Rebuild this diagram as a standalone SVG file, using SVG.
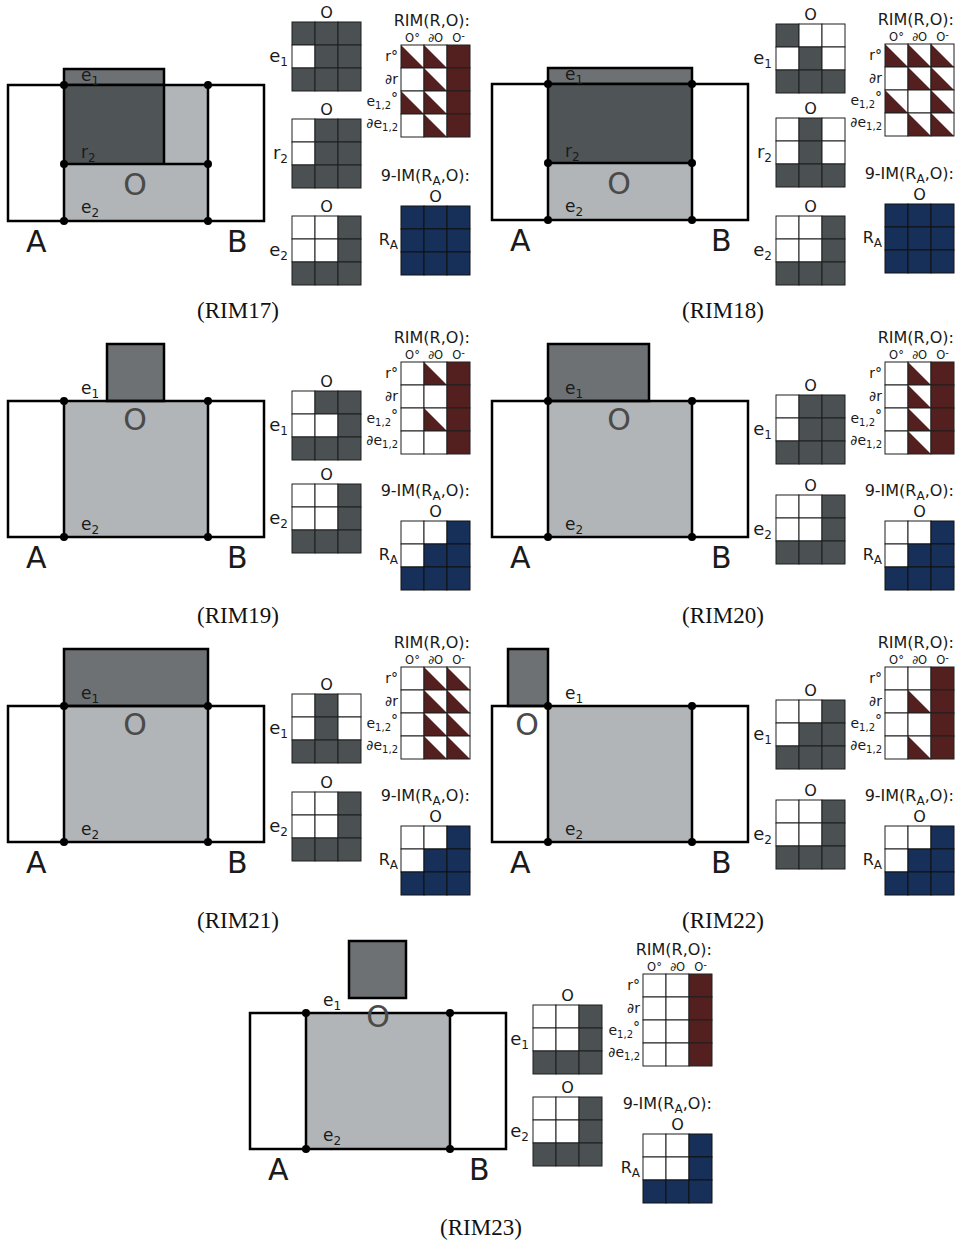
<svg xmlns="http://www.w3.org/2000/svg" xmlns:xlink="http://www.w3.org/1999/xlink" width="961" height="1245" viewBox="0 0 961 1245">
<style>
.t{font-family:"DejaVu Sans","Liberation Sans",sans-serif;fill:#1a1a1a}
.hd{font-size:16px;text-anchor:end}
.ch{font-size:11.5px;text-anchor:middle}
.rl{font-size:14px;text-anchor:end}
.ml{font-size:18px;text-anchor:end}
.mo{font-size:16px;text-anchor:middle}
.dl{font-size:17px}
.big{font-size:30px}
.bo{font-size:30px;fill:#4a4a4a;text-anchor:middle}
.s{font-size:10px}
.s2{font-size:12px}
.cap{font-family:"Liberation Serif","Times New Roman",serif;font-size:23px;text-anchor:middle;fill:#111}
.ln{stroke:#000;stroke-width:2.5;fill:none}
.wh{fill:#fff}
.lg{fill:#b1b5b7}
.mg{fill:#6d7173;stroke:#000;stroke-width:2.5}
.dg{fill:#4f5456}
.dot{fill:#000}
</style>
<defs>
<rect id="W" width="23" height="23" fill="#fff" stroke="#1e1e1e" stroke-width="1"/>
<rect id="D" width="23" height="23" fill="#4b5052" stroke="#1e1e1e" stroke-width="1"/>
<rect id="F" width="23" height="23" fill="#54201f" stroke="#1e1e1e" stroke-width="1"/>
<rect id="U" width="23" height="23" fill="#16305a" stroke="#111" stroke-width="1"/>
<g id="T"><rect width="23" height="23" fill="#fff"/><polygon points="0,0 0,23 23,23" fill="#54201f"/><rect width="23" height="23" fill="none" stroke="#1e1e1e" stroke-width="1"/></g>
</defs>
<rect width="961" height="1245" fill="#fff"/>
<g id="connectors"/>

<!-- RIM17 -->
<g id="rim17">
 <g id="rim17-fig" transform="translate(8,85)">
  <rect class="wh" x="0" y="0" width="256" height="136"/>
  <rect class="lg" x="56" y="0" width="144" height="136"/>
  <rect class="mg" x="56" y="-16" width="100" height="16"/>
  <rect class="dg" x="56" y="0" width="100" height="79"/>
  <rect class="ln" x="0" y="0" width="256" height="136"/>
  <path class="ln" d="M56 0V136M200 0V136M156 0V79M56 79H200"/>
  <g class="dot"><circle cx="56" cy="0" r="4"/><circle cx="200" cy="0" r="4"/><circle cx="56" cy="79" r="4"/><circle cx="200" cy="79" r="4"/><circle cx="56" cy="136" r="4"/><circle cx="200" cy="136" r="4"/></g>
  <text class="t dl" x="73" y="-4">e<tspan class="s2" dy="4">1</tspan></text>
  <text class="t dl" x="73" y="73">r<tspan class="s2" dy="4">2</tspan></text>
  <text class="t bo" x="127" y="110">O</text>
  <text class="t dl" x="73" y="128">e<tspan class="s2" dy="4">2</tspan></text>
  <text class="t big" x="18" y="167">A</text>
  <text class="t big" x="219" y="167">B</text>
 </g>
 <g id="rim17-m1" transform="translate(292,22)">
  <use href="#D" x="0" y="0"/><use href="#D" x="23" y="0"/><use href="#D" x="46" y="0"/>
  <use href="#W" x="0" y="23"/><use href="#D" x="23" y="23"/><use href="#D" x="46" y="23"/>
  <use href="#D" x="0" y="46"/><use href="#D" x="23" y="46"/><use href="#D" x="46" y="46"/>
  <text class="t mo" x="34.5" y="-4">O</text>
  <text class="t ml" x="-4" y="40">e<tspan class="s2" dy="4">1</tspan></text>
 </g>
 <g id="rim17-m2" transform="translate(292,119)">
  <use href="#W" x="0" y="0"/><use href="#D" x="23" y="0"/><use href="#D" x="46" y="0"/>
  <use href="#W" x="0" y="23"/><use href="#D" x="23" y="23"/><use href="#D" x="46" y="23"/>
  <use href="#D" x="0" y="46"/><use href="#D" x="23" y="46"/><use href="#D" x="46" y="46"/>
  <text class="t mo" x="34.5" y="-4">O</text>
  <text class="t ml" x="-4" y="40">r<tspan class="s2" dy="4">2</tspan></text>
 </g>
 <g id="rim17-m3" transform="translate(292,216)">
  <use href="#W" x="0" y="0"/><use href="#W" x="23" y="0"/><use href="#D" x="46" y="0"/>
  <use href="#W" x="0" y="23"/><use href="#W" x="23" y="23"/><use href="#D" x="46" y="23"/>
  <use href="#D" x="0" y="46"/><use href="#D" x="23" y="46"/><use href="#D" x="46" y="46"/>
  <text class="t mo" x="34.5" y="-4">O</text>
  <text class="t ml" x="-4" y="40">e<tspan class="s2" dy="4">2</tspan></text>
 </g>
 <g id="rim17-rim" transform="translate(401,45)">
  <use href="#T" x="0" y="0"/><use href="#T" x="23" y="0"/><use href="#F" x="46" y="0"/>
  <use href="#W" x="0" y="23"/><use href="#T" x="23" y="23"/><use href="#F" x="46" y="23"/>
  <use href="#T" x="0" y="46"/><use href="#T" x="23" y="46"/><use href="#F" x="46" y="46"/>
  <use href="#W" x="0" y="69"/><use href="#T" x="23" y="69"/><use href="#F" x="46" y="69"/>
  <text class="t hd" x="69" y="-19">RIM(R,O):</text>
  <text class="t ch" x="11.5" y="-3">O°</text><text class="t ch" x="34.5" y="-3">∂O</text><text class="t ch" x="57.5" y="-3">O<tspan class="s" dy="-3">-</tspan></text>
  <text class="t rl" x="-3" y="16">r°</text>
  <text class="t rl" x="-3" y="39">∂r</text>
  <text class="t rl" x="-3" y="61">e<tspan class="s" dy="3">1,2</tspan><tspan dy="-6">°</tspan></text>
  <text class="t rl" x="-3" y="83">∂e<tspan class="s" dy="3">1,2</tspan></text>
 </g>
 <g id="rim17-im" transform="translate(401,206)">
  <use href="#U" x="0" y="0"/><use href="#U" x="23" y="0"/><use href="#U" x="46" y="0"/>
  <use href="#U" x="0" y="23"/><use href="#U" x="23" y="23"/><use href="#U" x="46" y="23"/>
  <use href="#U" x="0" y="46"/><use href="#U" x="23" y="46"/><use href="#U" x="46" y="46"/>
  <text class="t hd" x="69" y="-25">9-IM(R<tspan class="s2" dy="4">A</tspan><tspan dy="-4">,O):</tspan></text>
  <text class="t mo" x="34.5" y="-4">O</text>
  <text class="t hd" x="-3" y="39">R<tspan class="s2" dy="4">A</tspan></text>
 </g>
 <text class="cap" x="238" y="318">(RIM17)</text>
</g>

<!-- RIM18 -->
<g id="rim18">
 <g id="rim18-fig" transform="translate(492,84)">
  <rect class="wh" x="0" y="0" width="256" height="136"/>
  <rect class="lg" x="56" y="79" width="144" height="57"/>
  <rect class="mg" x="56" y="-16" width="144" height="16"/>
  <rect class="dg" x="56" y="0" width="144" height="79"/>
  <rect class="ln" x="0" y="0" width="256" height="136"/>
  <path class="ln" d="M56 0V136M200 0V136M56 79H200"/>
  <g class="dot"><circle cx="56" cy="0" r="4"/><circle cx="200" cy="0" r="4"/><circle cx="56" cy="79" r="4"/><circle cx="200" cy="79" r="4"/><circle cx="56" cy="136" r="4"/><circle cx="200" cy="136" r="4"/></g>
  <text class="t dl" x="73" y="-4">e<tspan class="s2" dy="4">1</tspan></text>
  <text class="t dl" x="73" y="73">r<tspan class="s2" dy="4">2</tspan></text>
  <text class="t bo" x="127" y="110">O</text>
  <text class="t dl" x="73" y="128">e<tspan class="s2" dy="4">2</tspan></text>
  <text class="t big" x="18" y="167">A</text>
  <text class="t big" x="219" y="167">B</text>
 </g>
 <g id="rim18-m1" transform="translate(776,24)">
  <use href="#D" x="0" y="0"/><use href="#W" x="23" y="0"/><use href="#W" x="46" y="0"/>
  <use href="#W" x="0" y="23"/><use href="#D" x="23" y="23"/><use href="#W" x="46" y="23"/>
  <use href="#D" x="0" y="46"/><use href="#D" x="23" y="46"/><use href="#D" x="46" y="46"/>
  <text class="t mo" x="34.5" y="-4">O</text>
  <text class="t ml" x="-4" y="40">e<tspan class="s2" dy="4">1</tspan></text>
 </g>
 <g id="rim18-m2" transform="translate(776,118)">
  <use href="#W" x="0" y="0"/><use href="#D" x="23" y="0"/><use href="#W" x="46" y="0"/>
  <use href="#W" x="0" y="23"/><use href="#D" x="23" y="23"/><use href="#W" x="46" y="23"/>
  <use href="#D" x="0" y="46"/><use href="#D" x="23" y="46"/><use href="#D" x="46" y="46"/>
  <text class="t mo" x="34.5" y="-4">O</text>
  <text class="t ml" x="-4" y="40">r<tspan class="s2" dy="4">2</tspan></text>
 </g>
 <g id="rim18-m3" transform="translate(776,216)">
  <use href="#W" x="0" y="0"/><use href="#W" x="23" y="0"/><use href="#D" x="46" y="0"/>
  <use href="#W" x="0" y="23"/><use href="#W" x="23" y="23"/><use href="#D" x="46" y="23"/>
  <use href="#D" x="0" y="46"/><use href="#D" x="23" y="46"/><use href="#D" x="46" y="46"/>
  <text class="t mo" x="34.5" y="-4">O</text>
  <text class="t ml" x="-4" y="40">e<tspan class="s2" dy="4">2</tspan></text>
 </g>
 <g id="rim18-rim" transform="translate(885,44)">
  <use href="#T" x="0" y="0"/><use href="#T" x="23" y="0"/><use href="#T" x="46" y="0"/>
  <use href="#W" x="0" y="23"/><use href="#T" x="23" y="23"/><use href="#T" x="46" y="23"/>
  <use href="#T" x="0" y="46"/><use href="#W" x="23" y="46"/><use href="#T" x="46" y="46"/>
  <use href="#W" x="0" y="69"/><use href="#T" x="23" y="69"/><use href="#T" x="46" y="69"/>
  <text class="t hd" x="69" y="-19">RIM(R,O):</text>
  <text class="t ch" x="11.5" y="-3">O°</text><text class="t ch" x="34.5" y="-3">∂O</text><text class="t ch" x="57.5" y="-3">O<tspan class="s" dy="-3">-</tspan></text>
  <text class="t rl" x="-3" y="16">r°</text>
  <text class="t rl" x="-3" y="39">∂r</text>
  <text class="t rl" x="-3" y="61">e<tspan class="s" dy="3">1,2</tspan><tspan dy="-6">°</tspan></text>
  <text class="t rl" x="-3" y="83">∂e<tspan class="s" dy="3">1,2</tspan></text>
 </g>
 <g id="rim18-im" transform="translate(885,204)">
  <use href="#U" x="0" y="0"/><use href="#U" x="23" y="0"/><use href="#U" x="46" y="0"/>
  <use href="#U" x="0" y="23"/><use href="#U" x="23" y="23"/><use href="#U" x="46" y="23"/>
  <use href="#U" x="0" y="46"/><use href="#U" x="23" y="46"/><use href="#U" x="46" y="46"/>
  <text class="t hd" x="69" y="-25">9-IM(R<tspan class="s2" dy="4">A</tspan><tspan dy="-4">,O):</tspan></text>
  <text class="t mo" x="34.5" y="-4">O</text>
  <text class="t hd" x="-3" y="39">R<tspan class="s2" dy="4">A</tspan></text>
 </g>
 <text class="cap" x="723" y="318">(RIM18)</text>
</g>

<!-- RIM19 -->
<g id="rim19">
 <g id="rim19-fig" transform="translate(8,401)">
  <rect class="wh" x="0" y="0" width="256" height="136"/>
  <rect class="lg" x="56" y="0" width="144" height="136"/>
  <rect class="mg" x="99" y="-57" width="57" height="57"/>
  <rect class="ln" x="0" y="0" width="256" height="136"/>
  <path class="ln" d="M56 0V136M200 0V136"/>
  <g class="dot"><circle cx="56" cy="0" r="4"/><circle cx="200" cy="0" r="4"/><circle cx="56" cy="136" r="4"/><circle cx="200" cy="136" r="4"/></g>
  <text class="t dl" x="73" y="-7">e<tspan class="s2" dy="4">1</tspan></text>
  <text class="t bo" x="127" y="29">O</text>
  <text class="t dl" x="73" y="129">e<tspan class="s2" dy="4">2</tspan></text>
  <text class="t big" x="18" y="167">A</text>
  <text class="t big" x="219" y="167">B</text>
 </g>
 <g id="rim19-m1" transform="translate(292,391)">
  <use href="#W" x="0" y="0"/><use href="#D" x="23" y="0"/><use href="#D" x="46" y="0"/>
  <use href="#W" x="0" y="23"/><use href="#W" x="23" y="23"/><use href="#D" x="46" y="23"/>
  <use href="#D" x="0" y="46"/><use href="#D" x="23" y="46"/><use href="#D" x="46" y="46"/>
  <text class="t mo" x="34.5" y="-4">O</text>
  <text class="t ml" x="-4" y="40">e<tspan class="s2" dy="4">1</tspan></text>
 </g>
 <g id="rim19-m2" transform="translate(292,484)">
  <use href="#W" x="0" y="0"/><use href="#W" x="23" y="0"/><use href="#D" x="46" y="0"/>
  <use href="#W" x="0" y="23"/><use href="#W" x="23" y="23"/><use href="#D" x="46" y="23"/>
  <use href="#D" x="0" y="46"/><use href="#D" x="23" y="46"/><use href="#D" x="46" y="46"/>
  <text class="t mo" x="34.5" y="-4">O</text>
  <text class="t ml" x="-4" y="40">e<tspan class="s2" dy="4">2</tspan></text>
 </g>
 <g id="rim19-rim" transform="translate(401,362)">
  <use href="#W" x="0" y="0"/><use href="#T" x="23" y="0"/><use href="#F" x="46" y="0"/>
  <use href="#W" x="0" y="23"/><use href="#W" x="23" y="23"/><use href="#F" x="46" y="23"/>
  <use href="#W" x="0" y="46"/><use href="#T" x="23" y="46"/><use href="#F" x="46" y="46"/>
  <use href="#W" x="0" y="69"/><use href="#W" x="23" y="69"/><use href="#F" x="46" y="69"/>
  <text class="t hd" x="69" y="-19">RIM(R,O):</text>
  <text class="t ch" x="11.5" y="-3">O°</text><text class="t ch" x="34.5" y="-3">∂O</text><text class="t ch" x="57.5" y="-3">O<tspan class="s" dy="-3">-</tspan></text>
  <text class="t rl" x="-3" y="16">r°</text>
  <text class="t rl" x="-3" y="39">∂r</text>
  <text class="t rl" x="-3" y="61">e<tspan class="s" dy="3">1,2</tspan><tspan dy="-6">°</tspan></text>
  <text class="t rl" x="-3" y="83">∂e<tspan class="s" dy="3">1,2</tspan></text>
 </g>
 <g id="rim19-im" transform="translate(401,521)">
  <use href="#W" x="0" y="0"/><use href="#W" x="23" y="0"/><use href="#U" x="46" y="0"/>
  <use href="#W" x="0" y="23"/><use href="#U" x="23" y="23"/><use href="#U" x="46" y="23"/>
  <use href="#U" x="0" y="46"/><use href="#U" x="23" y="46"/><use href="#U" x="46" y="46"/>
  <text class="t hd" x="69" y="-25">9-IM(R<tspan class="s2" dy="4">A</tspan><tspan dy="-4">,O):</tspan></text>
  <text class="t mo" x="34.5" y="-4">O</text>
  <text class="t hd" x="-3" y="39">R<tspan class="s2" dy="4">A</tspan></text>
 </g>
 <text class="cap" x="238" y="623">(RIM19)</text>
</g>

<!-- RIM20 -->
<g id="rim20">
 <g id="rim20-fig" transform="translate(492,401)">
  <rect class="wh" x="0" y="0" width="256" height="136"/>
  <rect class="lg" x="56" y="0" width="144" height="136"/>
  <rect class="mg" x="56" y="-57" width="101" height="57"/>
  <rect class="ln" x="0" y="0" width="256" height="136"/>
  <path class="ln" d="M56 0V136M200 0V136"/>
  <g class="dot"><circle cx="56" cy="0" r="4"/><circle cx="200" cy="0" r="4"/><circle cx="56" cy="136" r="4"/><circle cx="200" cy="136" r="4"/></g>
  <text class="t dl" x="73" y="-7">e<tspan class="s2" dy="4">1</tspan></text>
  <text class="t bo" x="127" y="29">O</text>
  <text class="t dl" x="73" y="129">e<tspan class="s2" dy="4">2</tspan></text>
  <text class="t big" x="18" y="167">A</text>
  <text class="t big" x="219" y="167">B</text>
 </g>
 <g id="rim20-m1" transform="translate(776,395)">
  <use href="#W" x="0" y="0"/><use href="#D" x="23" y="0"/><use href="#D" x="46" y="0"/>
  <use href="#W" x="0" y="23"/><use href="#D" x="23" y="23"/><use href="#D" x="46" y="23"/>
  <use href="#D" x="0" y="46"/><use href="#D" x="23" y="46"/><use href="#D" x="46" y="46"/>
  <text class="t mo" x="34.5" y="-4">O</text>
  <text class="t ml" x="-4" y="40">e<tspan class="s2" dy="4">1</tspan></text>
 </g>
 <g id="rim20-m2" transform="translate(776,495)">
  <use href="#W" x="0" y="0"/><use href="#W" x="23" y="0"/><use href="#D" x="46" y="0"/>
  <use href="#W" x="0" y="23"/><use href="#W" x="23" y="23"/><use href="#D" x="46" y="23"/>
  <use href="#D" x="0" y="46"/><use href="#D" x="23" y="46"/><use href="#D" x="46" y="46"/>
  <text class="t mo" x="34.5" y="-4">O</text>
  <text class="t ml" x="-4" y="40">e<tspan class="s2" dy="4">2</tspan></text>
 </g>
 <g id="rim20-rim" transform="translate(885,362)">
  <use href="#W" x="0" y="0"/><use href="#T" x="23" y="0"/><use href="#F" x="46" y="0"/>
  <use href="#W" x="0" y="23"/><use href="#T" x="23" y="23"/><use href="#F" x="46" y="23"/>
  <use href="#W" x="0" y="46"/><use href="#T" x="23" y="46"/><use href="#F" x="46" y="46"/>
  <use href="#W" x="0" y="69"/><use href="#T" x="23" y="69"/><use href="#F" x="46" y="69"/>
  <text class="t hd" x="69" y="-19">RIM(R,O):</text>
  <text class="t ch" x="11.5" y="-3">O°</text><text class="t ch" x="34.5" y="-3">∂O</text><text class="t ch" x="57.5" y="-3">O<tspan class="s" dy="-3">-</tspan></text>
  <text class="t rl" x="-3" y="16">r°</text>
  <text class="t rl" x="-3" y="39">∂r</text>
  <text class="t rl" x="-3" y="61">e<tspan class="s" dy="3">1,2</tspan><tspan dy="-6">°</tspan></text>
  <text class="t rl" x="-3" y="83">∂e<tspan class="s" dy="3">1,2</tspan></text>
 </g>
 <g id="rim20-im" transform="translate(885,521)">
  <use href="#W" x="0" y="0"/><use href="#W" x="23" y="0"/><use href="#U" x="46" y="0"/>
  <use href="#W" x="0" y="23"/><use href="#U" x="23" y="23"/><use href="#U" x="46" y="23"/>
  <use href="#U" x="0" y="46"/><use href="#U" x="23" y="46"/><use href="#U" x="46" y="46"/>
  <text class="t hd" x="69" y="-25">9-IM(R<tspan class="s2" dy="4">A</tspan><tspan dy="-4">,O):</tspan></text>
  <text class="t mo" x="34.5" y="-4">O</text>
  <text class="t hd" x="-3" y="39">R<tspan class="s2" dy="4">A</tspan></text>
 </g>
 <text class="cap" x="723" y="623">(RIM20)</text>
</g>

<!-- RIM21 -->
<g id="rim21">
 <g id="rim21-fig" transform="translate(8,706)">
  <rect class="wh" x="0" y="0" width="256" height="136"/>
  <rect class="lg" x="56" y="0" width="144" height="136"/>
  <rect class="mg" x="56" y="-57" width="144" height="57"/>
  <rect class="ln" x="0" y="0" width="256" height="136"/>
  <path class="ln" d="M56 0V136M200 0V136"/>
  <g class="dot"><circle cx="56" cy="0" r="4"/><circle cx="200" cy="0" r="4"/><circle cx="56" cy="136" r="4"/><circle cx="200" cy="136" r="4"/></g>
  <text class="t dl" x="73" y="-7">e<tspan class="s2" dy="4">1</tspan></text>
  <text class="t bo" x="127" y="29">O</text>
  <text class="t dl" x="73" y="129">e<tspan class="s2" dy="4">2</tspan></text>
  <text class="t big" x="18" y="167">A</text>
  <text class="t big" x="219" y="167">B</text>
 </g>
 <g id="rim21-m1" transform="translate(292,694)">
  <use href="#W" x="0" y="0"/><use href="#D" x="23" y="0"/><use href="#W" x="46" y="0"/>
  <use href="#W" x="0" y="23"/><use href="#D" x="23" y="23"/><use href="#W" x="46" y="23"/>
  <use href="#D" x="0" y="46"/><use href="#D" x="23" y="46"/><use href="#D" x="46" y="46"/>
  <text class="t mo" x="34.5" y="-4">O</text>
  <text class="t ml" x="-4" y="40">e<tspan class="s2" dy="4">1</tspan></text>
 </g>
 <g id="rim21-m2" transform="translate(292,792)">
  <use href="#W" x="0" y="0"/><use href="#W" x="23" y="0"/><use href="#D" x="46" y="0"/>
  <use href="#W" x="0" y="23"/><use href="#W" x="23" y="23"/><use href="#D" x="46" y="23"/>
  <use href="#D" x="0" y="46"/><use href="#D" x="23" y="46"/><use href="#D" x="46" y="46"/>
  <text class="t mo" x="34.5" y="-4">O</text>
  <text class="t ml" x="-4" y="40">e<tspan class="s2" dy="4">2</tspan></text>
 </g>
 <g id="rim21-rim" transform="translate(401,667)">
  <use href="#W" x="0" y="0"/><use href="#T" x="23" y="0"/><use href="#T" x="46" y="0"/>
  <use href="#W" x="0" y="23"/><use href="#T" x="23" y="23"/><use href="#T" x="46" y="23"/>
  <use href="#W" x="0" y="46"/><use href="#T" x="23" y="46"/><use href="#T" x="46" y="46"/>
  <use href="#W" x="0" y="69"/><use href="#T" x="23" y="69"/><use href="#T" x="46" y="69"/>
  <text class="t hd" x="69" y="-19">RIM(R,O):</text>
  <text class="t ch" x="11.5" y="-3">O°</text><text class="t ch" x="34.5" y="-3">∂O</text><text class="t ch" x="57.5" y="-3">O<tspan class="s" dy="-3">-</tspan></text>
  <text class="t rl" x="-3" y="16">r°</text>
  <text class="t rl" x="-3" y="39">∂r</text>
  <text class="t rl" x="-3" y="61">e<tspan class="s" dy="3">1,2</tspan><tspan dy="-6">°</tspan></text>
  <text class="t rl" x="-3" y="83">∂e<tspan class="s" dy="3">1,2</tspan></text>
 </g>
 <g id="rim21-im" transform="translate(401,826)">
  <use href="#W" x="0" y="0"/><use href="#W" x="23" y="0"/><use href="#U" x="46" y="0"/>
  <use href="#W" x="0" y="23"/><use href="#U" x="23" y="23"/><use href="#U" x="46" y="23"/>
  <use href="#U" x="0" y="46"/><use href="#U" x="23" y="46"/><use href="#U" x="46" y="46"/>
  <text class="t hd" x="69" y="-25">9-IM(R<tspan class="s2" dy="4">A</tspan><tspan dy="-4">,O):</tspan></text>
  <text class="t mo" x="34.5" y="-4">O</text>
  <text class="t hd" x="-3" y="39">R<tspan class="s2" dy="4">A</tspan></text>
 </g>
 <text class="cap" x="238" y="928">(RIM21)</text>
</g>

<!-- RIM22 -->
<g id="rim22">
 <g id="rim22-fig" transform="translate(492,706)">
  <rect class="wh" x="0" y="0" width="256" height="136"/>
  <rect class="lg" x="56" y="0" width="144" height="136"/>
  <rect class="mg" x="16" y="-57" width="40" height="57"/>
  <rect class="ln" x="0" y="0" width="256" height="136"/>
  <path class="ln" d="M56 0V136M200 0V136"/>
  <g class="dot"><circle cx="56" cy="0" r="4"/><circle cx="200" cy="0" r="4"/><circle cx="56" cy="136" r="4"/><circle cx="200" cy="136" r="4"/></g>
  <text class="t dl" x="73" y="-7">e<tspan class="s2" dy="4">1</tspan></text>
  <text class="t bo" x="35" y="29">O</text>
  <text class="t dl" x="73" y="129">e<tspan class="s2" dy="4">2</tspan></text>
  <text class="t big" x="18" y="167">A</text>
  <text class="t big" x="219" y="167">B</text>
 </g>
 <g id="rim22-m1" transform="translate(776,700)">
  <use href="#W" x="0" y="0"/><use href="#W" x="23" y="0"/><use href="#D" x="46" y="0"/>
  <use href="#W" x="0" y="23"/><use href="#D" x="23" y="23"/><use href="#D" x="46" y="23"/>
  <use href="#D" x="0" y="46"/><use href="#D" x="23" y="46"/><use href="#D" x="46" y="46"/>
  <text class="t mo" x="34.5" y="-4">O</text>
  <text class="t ml" x="-4" y="40">e<tspan class="s2" dy="4">1</tspan></text>
 </g>
 <g id="rim22-m2" transform="translate(776,800)">
  <use href="#W" x="0" y="0"/><use href="#W" x="23" y="0"/><use href="#D" x="46" y="0"/>
  <use href="#W" x="0" y="23"/><use href="#W" x="23" y="23"/><use href="#D" x="46" y="23"/>
  <use href="#D" x="0" y="46"/><use href="#D" x="23" y="46"/><use href="#D" x="46" y="46"/>
  <text class="t mo" x="34.5" y="-4">O</text>
  <text class="t ml" x="-4" y="40">e<tspan class="s2" dy="4">2</tspan></text>
 </g>
 <g id="rim22-rim" transform="translate(885,667)">
  <use href="#W" x="0" y="0"/><use href="#W" x="23" y="0"/><use href="#F" x="46" y="0"/>
  <use href="#W" x="0" y="23"/><use href="#T" x="23" y="23"/><use href="#F" x="46" y="23"/>
  <use href="#W" x="0" y="46"/><use href="#W" x="23" y="46"/><use href="#F" x="46" y="46"/>
  <use href="#W" x="0" y="69"/><use href="#T" x="23" y="69"/><use href="#F" x="46" y="69"/>
  <text class="t hd" x="69" y="-19">RIM(R,O):</text>
  <text class="t ch" x="11.5" y="-3">O°</text><text class="t ch" x="34.5" y="-3">∂O</text><text class="t ch" x="57.5" y="-3">O<tspan class="s" dy="-3">-</tspan></text>
  <text class="t rl" x="-3" y="16">r°</text>
  <text class="t rl" x="-3" y="39">∂r</text>
  <text class="t rl" x="-3" y="61">e<tspan class="s" dy="3">1,2</tspan><tspan dy="-6">°</tspan></text>
  <text class="t rl" x="-3" y="83">∂e<tspan class="s" dy="3">1,2</tspan></text>
 </g>
 <g id="rim22-im" transform="translate(885,826)">
  <use href="#W" x="0" y="0"/><use href="#W" x="23" y="0"/><use href="#U" x="46" y="0"/>
  <use href="#W" x="0" y="23"/><use href="#U" x="23" y="23"/><use href="#U" x="46" y="23"/>
  <use href="#U" x="0" y="46"/><use href="#U" x="23" y="46"/><use href="#U" x="46" y="46"/>
  <text class="t hd" x="69" y="-25">9-IM(R<tspan class="s2" dy="4">A</tspan><tspan dy="-4">,O):</tspan></text>
  <text class="t mo" x="34.5" y="-4">O</text>
  <text class="t hd" x="-3" y="39">R<tspan class="s2" dy="4">A</tspan></text>
 </g>
 <text class="cap" x="723" y="928">(RIM22)</text>
</g>

<!-- RIM23 -->
<g id="rim23">
 <g id="rim23-fig" transform="translate(250,1013)">
  <rect class="wh" x="0" y="0" width="256" height="136"/>
  <rect class="lg" x="56" y="0" width="144" height="136"/>
  <rect class="mg" x="99" y="-72" width="57" height="57"/>
  <rect class="ln" x="0" y="0" width="256" height="136"/>
  <path class="ln" d="M56 0V136M200 0V136"/>
  <g class="dot"><circle cx="56" cy="0" r="4"/><circle cx="200" cy="0" r="4"/><circle cx="56" cy="136" r="4"/><circle cx="200" cy="136" r="4"/></g>
  <text class="t dl" x="73" y="-7">e<tspan class="s2" dy="4">1</tspan></text>
  <text class="t bo" x="128" y="14">O</text>
  <text class="t dl" x="73" y="128">e<tspan class="s2" dy="4">2</tspan></text>
  <text class="t big" x="18" y="167">A</text>
  <text class="t big" x="219" y="167">B</text>
 </g>
 <g id="rim23-m1" transform="translate(533,1005)">
  <use href="#W" x="0" y="0"/><use href="#W" x="23" y="0"/><use href="#D" x="46" y="0"/>
  <use href="#W" x="0" y="23"/><use href="#W" x="23" y="23"/><use href="#D" x="46" y="23"/>
  <use href="#D" x="0" y="46"/><use href="#D" x="23" y="46"/><use href="#D" x="46" y="46"/>
  <text class="t mo" x="34.5" y="-4">O</text>
  <text class="t ml" x="-4" y="40">e<tspan class="s2" dy="4">1</tspan></text>
 </g>
 <g id="rim23-m2" transform="translate(533,1097)">
  <use href="#W" x="0" y="0"/><use href="#W" x="23" y="0"/><use href="#D" x="46" y="0"/>
  <use href="#W" x="0" y="23"/><use href="#W" x="23" y="23"/><use href="#D" x="46" y="23"/>
  <use href="#D" x="0" y="46"/><use href="#D" x="23" y="46"/><use href="#D" x="46" y="46"/>
  <text class="t mo" x="34.5" y="-4">O</text>
  <text class="t ml" x="-4" y="40">e<tspan class="s2" dy="4">2</tspan></text>
 </g>
 <g id="rim23-rim" transform="translate(643,974)">
  <use href="#W" x="0" y="0"/><use href="#W" x="23" y="0"/><use href="#F" x="46" y="0"/>
  <use href="#W" x="0" y="23"/><use href="#W" x="23" y="23"/><use href="#F" x="46" y="23"/>
  <use href="#W" x="0" y="46"/><use href="#W" x="23" y="46"/><use href="#F" x="46" y="46"/>
  <use href="#W" x="0" y="69"/><use href="#W" x="23" y="69"/><use href="#F" x="46" y="69"/>
  <text class="t hd" x="69" y="-19">RIM(R,O):</text>
  <text class="t ch" x="11.5" y="-3">O°</text><text class="t ch" x="34.5" y="-3">∂O</text><text class="t ch" x="57.5" y="-3">O<tspan class="s" dy="-3">-</tspan></text>
  <text class="t rl" x="-3" y="16">r°</text>
  <text class="t rl" x="-3" y="39">∂r</text>
  <text class="t rl" x="-3" y="61">e<tspan class="s" dy="3">1,2</tspan><tspan dy="-6">°</tspan></text>
  <text class="t rl" x="-3" y="83">∂e<tspan class="s" dy="3">1,2</tspan></text>
 </g>
 <g id="rim23-im" transform="translate(643,1134)">
  <use href="#W" x="0" y="0"/><use href="#W" x="23" y="0"/><use href="#U" x="46" y="0"/>
  <use href="#W" x="0" y="23"/><use href="#W" x="23" y="23"/><use href="#U" x="46" y="23"/>
  <use href="#U" x="0" y="46"/><use href="#U" x="23" y="46"/><use href="#U" x="46" y="46"/>
  <text class="t hd" x="69" y="-25">9-IM(R<tspan class="s2" dy="4">A</tspan><tspan dy="-4">,O):</tspan></text>
  <text class="t mo" x="34.5" y="-4">O</text>
  <text class="t hd" x="-3" y="39">R<tspan class="s2" dy="4">A</tspan></text>
 </g>
 <text class="cap" x="481" y="1235">(RIM23)</text>
</g>
</svg>
